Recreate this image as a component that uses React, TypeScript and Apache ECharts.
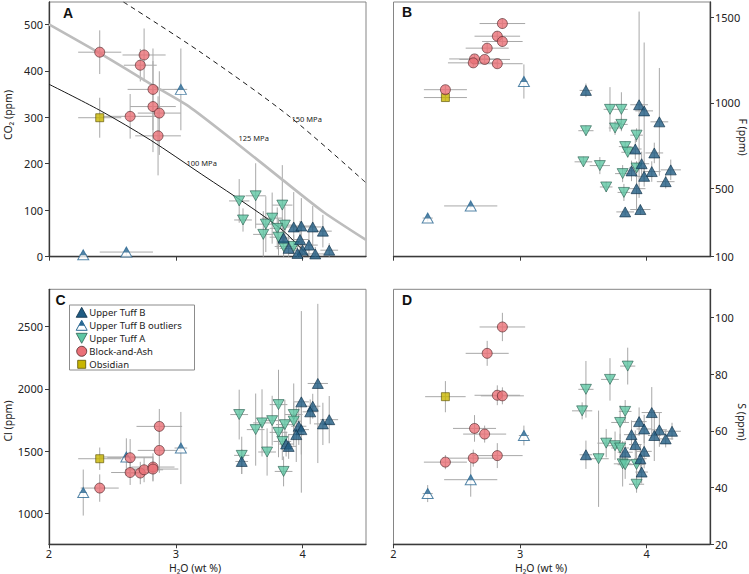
import React, { useEffect, useRef } from "react";
import * as echarts from "echarts";

// Each row: [H2O wt%, value, H2O error, value error]
// ---------- Panel A: CO2 (ppm) ----------
const co2TuffB = [
  [3.93, 64, 0.08, 75], [3.99, 66, 0.08, 60], [4.08, 64, 0.07, 45], [4.16, 55, 0.07, 35],
  [3.98, 37, 0.07, 40], [4.05, 25, 0.07, 30], [4.0, 14, 0.06, 20], [3.89, 18, 0.07, 30],
  [4.1, 6, 0.07, 15], [4.21, 14, 0.07, 15], [3.96, 7, 0.07, 20], [3.85, 40, 0.06, 30],
];
const co2TuffBOut = [[2.27, 4, 0.03, 5], [2.61, 10, 0.21, 8], [3.04, 360, 0.05, 88]];
const co2TuffA = [
  [3.5, 120, 0.08, 47], [3.63, 131, 0.08, 70], [3.53, 79, 0.07, 25], [3.84, 111, 0.08, 86],
  [3.76, 83, 0.08, 55], [3.71, 70, 0.08, 60], [3.86, 68, 0.08, 40], [3.69, 48, 0.08, 50],
  [3.8, 61, 0.06, 45], [3.81, 42, 0.07, 40], [3.85, 22, 0.07, 30], [3.93, 22, 0.07, 25],
];
const co2BlockAsh = [
  [2.4, 440, 0.17, 47], [2.75, 434, 0.17, 57], [2.72, 412, 0.13, 35], [2.82, 360, 0.2, 88],
  [2.82, 323, 0.18, 98], [2.87, 309, 0.17, 90], [2.64, 302, 0.21, 48], [2.86, 260, 0.18, 85],
];
const co2Obsidian = [[2.4, 299, 0.17, 43]];

// Isobars (H2O, CO2)
const iso100 = [[2, 371], [2.4, 315], [2.8, 251], [3.2, 178], [3.6, 105], [3.85, 55], [4.05, 0]];
const iso125 = [[2, 500], [2.4, 438], [2.8, 372], [3.1, 324], [3.5, 240], [3.83, 168], [4.17, 95], [4.5, 36]];
const iso150 = [[2.587, 548], [3.19, 441], [3.9, 301], [4.5, 159]];

// ---------- Panel B: F (ppm) ----------
const fTuffB = [
  [3.52, 1073, 0.05, 40], [3.94, 989, 0.07, 545], [3.98, 953, 0.07, 400], [4.1, 889, 0.07, 315],
  [3.91, 730, 0.05, 60], [4.06, 707, 0.07, 60], [3.96, 644, 0.06, 70], [4.04, 598, 0.07, 60],
  [3.88, 602, 0.06, 60], [4.19, 608, 0.08, 60], [3.98, 570, 0.07, 60], [4.15, 539, 0.07, 40],
  [3.92, 498, 0.07, 130], [3.83, 362, 0.07, 20], [3.95, 376, 0.08, 30],
];
const fTuffBOut = [[3.03, 1125, 0.03, 100], [2.61, 397, 0.21, 15], [2.27, 326, 0.04, 20]];
const fTuffA = [
  [3.52, 837, 0.06, 30], [3.71, 962, 0.05, 130], [3.8, 962, 0.05, 100], [3.75, 853, 0.05, 40],
  [3.8, 874, 0.05, 40], [3.92, 811, 0.05, 40], [3.83, 744, 0.05, 30], [3.85, 711, 0.05, 30],
  [3.5, 655, 0.07, 30], [3.63, 633, 0.08, 50], [3.92, 619, 0.06, 40], [3.81, 586, 0.06, 50],
  [3.68, 508, 0.05, 30], [3.82, 476, 0.05, 50],
];
const fBlockAsh = [
  [2.86, 1464, 0.18, 30], [2.82, 1390, 0.18, 30], [2.86, 1359, 0.16, 30], [2.74, 1320, 0.17, 30],
  [2.64, 1257, 0.2, 25], [2.72, 1254, 0.2, 25], [2.63, 1234, 0.2, 25], [2.82, 1229, 0.2, 25],
  [2.41, 1077, 0.17, 25],
];
const fObsidian = [[2.41, 1031, 0.17, 20]];

// ---------- Panel C: Cl (ppm) ----------
const clTuffB = [
  [4.12, 2043, 0.08, 640], [3.99, 1895, 0.06, 730], [4.08, 1860, 0.06, 100], [4.06, 1815, 0.06, 100],
  [4.21, 1752, 0.07, 190], [4.16, 1718, 0.07, 170], [3.97, 1699, 0.06, 150], [3.99, 1672, 0.06, 200],
  [3.95, 1632, 0.06, 220], [3.87, 1556, 0.06, 100], [3.89, 1537, 0.06, 100], [3.52, 1416, 0.05, 100],
];
const clTuffBOut = [[2.27, 1166, 0.03, 185], [2.61, 1452, 0.21, 150], [3.04, 1524, 0.05, 290]];
const clTuffA = [
  [3.5, 1793, 0.07, 200], [3.81, 1873, 0.07, 280], [3.68, 1726, 0.07, 270], [3.76, 1744, 0.07, 200],
  [3.63, 1672, 0.07, 290], [3.93, 1793, 0.07, 250], [3.86, 1712, 0.07, 200], [3.81, 1650, 0.07, 200],
  [3.84, 1577, 0.07, 150], [3.72, 1492, 0.07, 190], [3.52, 1465, 0.06, 150], [3.85, 1336, 0.07, 120],
  [3.93, 1740, 0.06, 150],
];
const clBlockAsh = [
  [2.87, 1698, 0.18, 140], [2.87, 1505, 0.17, 180], [2.64, 1446, 0.18, 150], [2.64, 1327, 0.15, 100],
  [2.72, 1323, 0.12, 90], [2.75, 1349, 0.15, 100], [2.82, 1371, 0.17, 110], [2.82, 1355, 0.2, 100],
  [2.4, 1202, 0.15, 110],
];
const clObsidian = [[2.4, 1438, 0.17, 90]];

// ---------- Panel D: S (ppm) ----------
const sTuffB = [
  [4.04, 66.5, 0.08, 9], [3.94, 63.3, 0.06, 5], [3.98, 60.7, 0.06, 5], [3.88, 58.7, 0.06, 5],
  [4.1, 60.4, 0.06, 6], [4.2, 59.9, 0.07, 3], [4.06, 58.4, 0.05, 9], [4.15, 57.2, 0.06, 3],
  [3.91, 55.2, 0.05, 5], [3.83, 52.5, 0.06, 4], [3.98, 52.8, 0.06, 6], [3.95, 50.2, 0.05, 5],
  [3.52, 51.6, 0.05, 5], [3.96, 45.5, 0.05, 4],
];
const sTuffBOut = [[3.03, 58.4, 0.04, 3.5], [2.61, 42.8, 0.21, 6], [2.27, 37.9, 0.04, 3]];
const sTuffA = [
  [3.85, 82.9, 0.06, 6.5], [3.71, 78.2, 0.07, 7.5], [3.52, 74.7, 0.06, 10], [3.49, 67.1, 0.08, 3],
  [3.83, 66.9, 0.05, 4], [3.79, 63.0, 0.07, 6], [3.68, 55.7, 0.07, 5], [3.75, 54.8, 0.07, 5],
  [3.79, 54.0, 0.07, 5], [3.62, 50.2, 0.08, 17], [3.81, 48.4, 0.07, 8], [3.83, 48.1, 0.06, 5],
  [3.92, 48.2, 0.07, 5], [3.92, 41.2, 0.06, 3],
];
const sBlockAsh = [
  [2.86, 96.7, 0.18, 5], [2.74, 87.4, 0.17, 4.4], [2.82, 72.6, 0.18, 3.5], [2.86, 72.4, 0.17, 3],
  [2.64, 60.9, 0.17, 4.7], [2.72, 58.9, 0.17, 3], [2.63, 50.4, 0.2, 3], [2.82, 51.3, 0.2, 4.4],
  [2.41, 49.0, 0.17, 2.5],
];
const sObsidian = [[2.41, 72.1, 0.16, 5.5]];

const CO2_TICKS = [0, 100, 200, 300, 400, 500];
const F_TICKS = [100, 500, 1000, 1500];
const CL_TICKS = [1000, 1500, 2000, 2500];
const S_TICKS = [20, 40, 60, 80, 100];
const X_TICKS = [2, 3, 4];

const LEGEND_NAMES = ["Upper Tuff B", "Upper Tuff B outliers", "Upper Tuff A", "Block-and-Ash", "Obsidian"];

const FONT = "'Noto Sans', 'Open Sans', sans-serif";
const DARK = "#1f5b82";
const DARK_EDGE = "#0e2f47";
const OUT = "#2a6892";
const TEAL = "#5fc7a4";
const TEAL_EDGE = "#2c5f52";
const SALMON = "#ea7077";
const SALMON_EDGE = "#4d2326";
const OLIVE = "#c8b500";
const OLIVE_EDGE = "#5a5000";
const ERR = "#a8a8a8";
const AXIS = "#3a3a3a";

const TRI_DOWN = "path://M0,0L10,0L5,9Z";
const TRI_TOP = "path://M5,0L10,10L0,10Z";

const X_MIN = 2;
const X_MAX = 4.5;

function errorSeries(data: number[][], gi: number, yMin: number, yMax: number) {
  return {
    type: "custom",
    xAxisIndex: gi,
    yAxisIndex: gi,
    silent: true,
    z: 1,
    data,
    encode: { x: 0, y: 1 },
    renderItem: (_p: any, api: any) => {
      const x = api.value(0);
      const y = api.value(1);
      const xe = api.value(2);
      const ye = api.value(3);
      const style = { stroke: ERR, lineWidth: 1 };
      const a = api.coord([Math.max(x - xe, X_MIN), y]);
      const b = api.coord([Math.min(x + xe, X_MAX), y]);
      const c = api.coord([x, Math.max(y - ye, yMin)]);
      const d = api.coord([x, Math.min(y + ye, yMax)]);
      return {
        type: "group",
        children: [
          { type: "line", shape: { x1: a[0], y1: a[1], x2: b[0], y2: b[1] }, style },
          { type: "line", shape: { x1: c[0], y1: c[1], x2: d[0], y2: d[1] }, style },
        ],
      };
    },
  };
}

function pts(arr: number[][]) {
  return arr.map((d) => [d[0], d[1]]);
}

const plain = (v: number) => String(v);

function buildOption() {
  const panels = [
    { grid: { left: 49, top: 2, width: 317, height: 254.7 }, yMin: 0, yMax: 548, ticks: CO2_TICKS, right: false, xLabels: false,
      tb: co2TuffB, out: co2TuffBOut, ta: co2TuffA, ba: co2BlockAsh, ob: co2Obsidian },
    { grid: { left: 393.5, top: 2, width: 316.5, height: 254.7 }, yMin: 100, yMax: 1590, ticks: F_TICKS, right: true, xLabels: false,
      tb: fTuffB, out: fTuffBOut, ta: fTuffA, ba: fBlockAsh, ob: fObsidian },
    { grid: { left: 49, top: 289.3, width: 317, height: 255 }, yMin: 750, yMax: 2800, ticks: CL_TICKS, right: false, xLabels: true,
      tb: clTuffB, out: clTuffBOut, ta: clTuffA, ba: clBlockAsh, ob: clObsidian },
    { grid: { left: 393.5, top: 289.3, width: 316.5, height: 255 }, yMin: 20, yMax: 110, ticks: S_TICKS, right: true, xLabels: true,
      tb: sTuffB, out: sTuffBOut, ta: sTuffA, ba: sBlockAsh, ob: sObsidian },
  ];

  const grids: any[] = [];
  const xAxes: any[] = [];
  const yAxes: any[] = [];
  const series: any[] = [];

  panels.forEach((p, gi) => {
    grids.push({ ...p.grid, show: true, borderColor: "#858585", borderWidth: 1, backgroundColor: "transparent" });
    xAxes.push({
      type: "value", gridIndex: gi, min: X_MIN, max: X_MAX,
      axisLine: { show: true, onZero: false, lineStyle: { color: AXIS, width: 1.3 } },
      axisTick: { show: true, length: 4, customValues: X_TICKS, lineStyle: { color: AXIS, width: 1 } },
      axisLabel: { show: p.xLabels, customValues: X_TICKS, formatter: plain, margin: 4, fontSize: 11, color: "#222", fontFamily: FONT },
      splitLine: { show: false },
    });
    yAxes.push({
      type: "value", gridIndex: gi, min: p.yMin, max: p.yMax, position: p.right ? "right" : "left",
      axisLine: { show: true, onZero: false, lineStyle: { color: AXIS, width: 1.3 } },
      axisTick: { show: true, length: 4, customValues: p.ticks, lineStyle: { color: AXIS, width: 1 } },
      axisLabel: { show: true, customValues: p.ticks, formatter: plain, margin: p.right ? 5 : 6, fontSize: 11, color: "#222", fontFamily: FONT },
      splitLine: { show: false },
    });

    const all = [...p.ob, ...p.out, ...p.ta, ...p.tb, ...p.ba];
    series.push(errorSeries(all, gi, p.yMin, p.yMax));

    if (gi === 0) {
      series.push({ type: "line", xAxisIndex: 0, yAxisIndex: 0, data: iso125, smooth: 0.2, symbol: "none", silent: true, z: 2,
        lineStyle: { color: "#bdbdbd", width: 2.6 } });
      series.push({ type: "line", xAxisIndex: 0, yAxisIndex: 0, data: iso100, smooth: 0.3, symbol: "none", silent: true, z: 2,
        lineStyle: { color: "#1a1a1a", width: 1 } });
      series.push({ type: "line", xAxisIndex: 0, yAxisIndex: 0, data: iso150, smooth: 0.3, symbol: "none", silent: true, z: 2,
        lineStyle: { color: "#1a1a1a", width: 1, type: [5, 4] } });
    }

    series.push({ type: "scatter", name: "Obsidian", xAxisIndex: gi, yAxisIndex: gi, data: pts(p.ob), z: 3,
      symbol: "rect", symbolSize: 8, itemStyle: { color: OLIVE, borderColor: OLIVE_EDGE, borderWidth: 0.8 } });
    series.push({ type: "scatter", name: "Upper Tuff B outliers", xAxisIndex: gi, yAxisIndex: gi, data: pts(p.out), z: 3,
      symbol: "triangle", symbolSize: [11, 10], itemStyle: { color: "#ffffff", borderColor: OUT, borderWidth: 1 } });
    series.push({ type: "scatter", name: "Upper Tuff B outliers top", xAxisIndex: gi, yAxisIndex: gi, data: pts(p.out), z: 3,
      symbol: TRI_TOP, symbolSize: [6.05, 5.5], symbolOffset: [0, -2.25], itemStyle: { color: OUT } });
    series.push({ type: "scatter", name: "Upper Tuff A", xAxisIndex: gi, yAxisIndex: gi, data: pts(p.ta), z: 3,
      symbol: TRI_DOWN, symbolSize: [11, 10], itemStyle: { color: TEAL, borderColor: TEAL_EDGE, borderWidth: 0.8 } });
    series.push({ type: "scatter", name: "Upper Tuff B", xAxisIndex: gi, yAxisIndex: gi, data: pts(p.tb), z: 3,
      symbol: "triangle", symbolSize: [11, 10], itemStyle: { color: DARK, borderColor: DARK_EDGE, borderWidth: 0.8 } });
    series.push({ type: "scatter", name: "Block-and-Ash", xAxisIndex: gi, yAxisIndex: gi, data: pts(p.ba), z: 3,
      symbol: "circle", symbolSize: 10, itemStyle: { color: SALMON, borderColor: SALMON_EDGE, borderWidth: 0.8 } });
  });

  const txt = (text: string, x: number, y: number, extra: any = {}, rot = 0) => ({
    type: "text", x, y, rotation: rot, z: 50,
    style: { text, fill: "#222", fontFamily: FONT, fontSize: 11, align: "center", verticalAlign: "middle", ...extra },
  });

  const BOLD = { fontSize: 14, fontWeight: "bold", fill: "#111", fontFamily: "'Liberation Sans', Arial, sans-serif" };
  const graphics: any[] = [
    txt("A", 68, 12.5, BOLD),
    txt("B", 407, 11.5, BOLD),
    txt("C", 60.5, 300, BOLD),
    txt("D", 407, 299.5, BOLD),
    txt("CO₂ (ppm)", 8, 115, { fontSize: 10.5 }, Math.PI / 2),
    txt("Cl (ppm)", 7.5, 421, { fontSize: 10.5 }, Math.PI / 2),
    txt("F (ppm)", 742.5, 137, { fontSize: 10.5 }, -Math.PI / 2),
    txt("S (ppm)", 742, 422, { fontSize: 10.5 }, -Math.PI / 2),
    txt("H₂O (wt %)", 195, 567.5, { fontSize: 10.5 }),
    txt("H₂O (wt %)", 541, 567.5, { fontSize: 10.5 }),
    txt("100 MPa", 186.5, 163, { fontSize: 7.5, align: "left" }),
    txt("125 MPa", 238.5, 137.5, { fontSize: 7.5, align: "left" }),
    txt("150 MPa", 291.5, 118.5, { fontSize: 7.5, align: "left" }),
  ];

  // legend (panel C), flat elements
  const lx = 81.7;
  const ly0 = 312.3;
  const rowH = 13;
  graphics.push({ type: "rect", z: 40, shape: { x: 69.5, y: 305, width: 125, height: 65 },
    style: { fill: "#ffffff", stroke: "#8c8c8c", lineWidth: 1 } });
  LEGEND_NAMES.forEach((name, i) => {
    const cy = ly0 + rowH * i;
    if (i === 0) {
      graphics.push({ type: "polygon", z: 45, shape: { points: [[lx, cy - 5], [lx + 5.5, cy + 5], [lx - 5.5, cy + 5]] },
        style: { fill: DARK, stroke: DARK_EDGE, lineWidth: 0.8 } });
    } else if (i === 1) {
      graphics.push({ type: "polygon", z: 45, shape: { points: [[lx, cy - 5], [lx + 5.5, cy + 5], [lx - 5.5, cy + 5]] },
        style: { fill: "#fff", stroke: OUT, lineWidth: 1 } });
      graphics.push({ type: "polygon", z: 46, shape: { points: [[lx, cy - 5], [lx + 3.0, cy + 0.5], [lx - 3.0, cy + 0.5]] },
        style: { fill: OUT } });
    } else if (i === 2) {
      graphics.push({ type: "polygon", z: 45, shape: { points: [[lx - 5.5, cy - 5], [lx + 5.5, cy - 5], [lx, cy + 5]] },
        style: { fill: TEAL, stroke: TEAL_EDGE, lineWidth: 0.8 } });
    } else if (i === 3) {
      graphics.push({ type: "circle", z: 45, shape: { cx: lx, cy, r: 5 }, style: { fill: SALMON, stroke: SALMON_EDGE, lineWidth: 0.8 } });
    } else {
      graphics.push({ type: "rect", z: 45, shape: { x: lx - 4, y: cy - 4, width: 8, height: 8 }, style: { fill: OLIVE, stroke: OLIVE_EDGE, lineWidth: 0.8 } });
    }
    graphics.push({ type: "text", z: 46, x: 89.3, y: cy,
      style: { text: name, fill: "#222", fontFamily: FONT, fontSize: 9.5, lineHeight: 10, align: "left", verticalAlign: "middle" } });
  });

  return {
    animation: false,
    backgroundColor: "#ffffff",
    textStyle: { fontFamily: FONT },
    grid: grids,
    xAxis: xAxes,
    yAxis: yAxes,
    series,
    graphic: graphics,
  };
}

export default function App() {
  const ref = useRef<HTMLDivElement>(null);
  useEffect(() => {
    if (!ref.current) return;
    const chart = echarts.init(ref.current, null, { renderer: "svg" });
    chart.setOption(buildOption() as any);
    return () => chart.dispose();
  }, []);
  return (
    <div
      ref={ref}
      style={{ position: "fixed", left: 0, top: 0, width: 749, height: 574, background: "#fff" }}
    />
  );
}
